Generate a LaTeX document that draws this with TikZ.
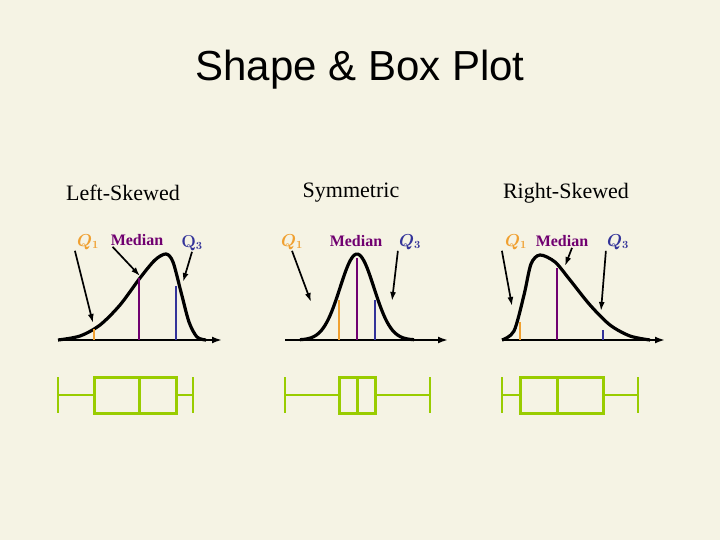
\documentclass[tikz,border=0pt]{standalone}
\usepackage{fontspec}
\setmainfont{Liberation Serif}
\newfontfamily\titlefont{Liberation Sans}
\usetikzlibrary{arrows.meta}
\definecolor{paper}{RGB}{245,243,228}
\definecolor{qone}{RGB}{240,160,48}
\definecolor{qmed}{RGB}{112,0,112}
\definecolor{qthree}{RGB}{51,51,153}
\definecolor{boxgreen}{RGB}{153,204,0}
\tikzset{
  axis/.style={-{Latex[length=10pt,width=7pt]}, line width=2.2pt},
  curve/.style={line width=3.2pt, smooth},
  pointer/.style={-{Latex[length=9pt,width=6pt]}, line width=1.7pt},
  qline/.style={line width=2.8pt},
  boxplot/.style={boxgreen, line width=3pt},
  whisk/.style={boxgreen, line width=2pt},
  heading/.style={font=\fontsize{22}{25}\selectfont},
  qlabel/.style={font=\fontsize{16}{18}\selectfont\bfseries\boldmath, inner sep=1pt}
}
\begin{document}
\begin{tikzpicture}[x=1pt,y=-1pt]
    \fill[paper] (0,0) rectangle (720,540);
    \useasboundingbox (0,0) rectangle (720,540);
    \node[font=\titlefont\fontsize{42}{46}\selectfont] (title) at (360,70) {Shape \& Box Plot};

    \node[heading] (hleft) at (123,193) {Left-Skewed};
    \node[heading] (hsym) at (351,193) {Symmetric};
    \node[heading] (hright) at (566,193) {Right-Skewed};

    %left skewed
    \draw[axis] (58,340) -- (222,340);
    \draw[curve] plot coordinates {(58,340) (80,336) (100,325) (120,305) (140,278) (155,260) (166,254) (173,262) (181,292) (189,322) (197,337) (206,340)};
    \draw[qline, qone] (94,340) -- (94,329);
    \draw[qline, qmed] (139,340) -- (139,278);
    \draw[qline, qthree] (176,340) -- (176,286);
    \node[qlabel, qone] (lq1) at (88,242) {$Q_1$};
    \node[qlabel, qmed] (lmed) at (137,240) {Median};
    \node[qlabel, qthree] (lq3) at (192,243) {$\mathbf{Q}_3$};
    \coordinate (lq1tip) at (93,323);
    \coordinate (lmedtip) at (140,276);
    \coordinate (lq3tip) at (183,282);
    \draw[pointer] (lq1.south west) ++(-1,0) -- (lq1tip);
    \draw[pointer] (lmed.south west) ++(3,0) -- (lmedtip);
    \draw[pointer] (lq3.south) -- (lq3tip);

    %symmetric
    \draw[axis] (285,340) -- (448,340);
    \draw[curve, domain=300:414, samples=60] plot (\x, {340-86*exp(-((\x-357)/17)^2/2)});
    \draw[qline, qone] (339,340) -- (339,300);
    \draw[qline, qmed] (357,340) -- (357,258);
    \draw[qline, qthree] (375,340) -- (375,300);
    \node[qlabel, qone] (sq1) at (292,242) {$Q_1$};
    \node[qlabel, qmed] (smed) at (356,241) {Median};
    \node[qlabel, qthree] (sq3) at (410,242) {$Q_3$};
    \coordinate (sq1tip) at (311,302);
    \coordinate (sq3tip) at (392,301);
    \draw[pointer] (sq1.south) -- (sq1tip);
    \draw[pointer] (sq3.south west) -- (sq3tip);

    %right skewed
    \draw[axis] (502,340) -- (665,340);
    \draw[curve] plot coordinates {(502,340) (514,331) (524,295) (531,264) (540,255) (555,262) (570,280) (590,305) (610,325) (630,336) (650,340)};
    \draw[qline, qone] (520,340) -- (520,322);
    \draw[qline, qmed] (557,340) -- (557,268);
    \draw[qline, qthree] (603,340) -- (603,330);
    \node[qlabel, qone] (rq1) at (516,242) {$Q_1$};
    \node[qlabel, qmed] (rmed) at (562,241) {Median};
    \node[qlabel, qthree] (rq3) at (618,242) {$Q_3$};
    \coordinate (rq1tip) at (512,306);
    \coordinate (rmedtip) at (565,266);
    \coordinate (rq3tip) at (601,311);
    \draw[pointer] (rq1.south west) ++(-2,0) -- (rq1tip);
    \draw[pointer] (rmed.south) ++(10,0) -- (rmedtip);
    \draw[pointer] (rq3.south west) -- (rq3tip);

    %box plots: whisker ends, box ends, median
    \foreach \wa/\qa/\qm/\qb/\wb in {58/94/139/176/193, 285/339/357/375/430, 502/520/557/603/638} {
      \draw[whisk] (\wa,395) -- (\qa,395) (\qb,395) -- (\wb,395);
      \draw[whisk] (\wa,377) -- (\wa,413) (\wb,377) -- (\wb,413);
      \draw[boxplot] (\qa,377) rectangle (\qb,413) (\qm,377) -- (\qm,413);
    }
\end{tikzpicture}
\end{document}
